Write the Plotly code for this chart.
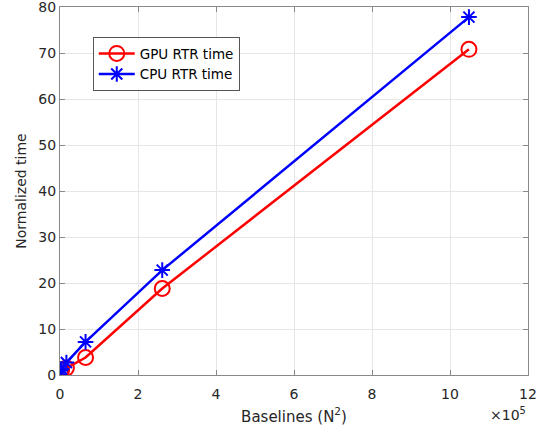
import plotly.graph_objects as go

baselines = [1024, 4096, 16384, 65536, 262144, 1048576]
gpu_time = [1.0, 1.1, 1.5, 3.8, 18.8, 70.8]
cpu_time = [1.0, 1.3, 2.7, 7.2, 22.8, 77.8]
x_ticks = [0, 2, 4, 6, 8, 10, 12]
y_ticks = [0, 10, 20, 30, 40, 50, 60, 70, 80]

xs = [b / 1e5 for b in baselines]
font = "DejaVu Sans"
tc = "#262626"

fig = go.Figure()
fig.add_trace(go.Scatter(x=xs, y=gpu_time, mode="lines+markers", name="GPU RTR time",
                         line=dict(color="#ff0000", width=2.5),
                         marker=dict(symbol="circle-open", size=15, line=dict(width=2, color="#ff0000"))))
fig.add_trace(go.Scatter(x=xs, y=cpu_time, mode="lines+markers", name="CPU RTR time",
                         line=dict(color="#0000ff", width=2.5),
                         marker=dict(symbol="asterisk-open", size=13, line=dict(width=2, color="#0000ff"))))

axis_common = dict(showgrid=True, gridcolor="#e6e6e6", gridwidth=1, zeroline=False,
                   showline=True, linecolor="#8a8a8a", linewidth=1, mirror="allticks",
                   ticks="inside", ticklen=5, tickcolor="#8a8a8a", automargin=False,
                   ticklabeloverflow="allow",
                   tickfont=dict(family=font, size=14, color=tc))

fig.update_layout(
    width=546, height=427,
    margin=dict(l=60, r=18, t=7, b=52),
    paper_bgcolor="white", plot_bgcolor="white",
    font=dict(family=font, color=tc),
    xaxis=dict(range=[0, 12], tickvals=x_ticks, ticklabelstandoff=6,
               title=dict(text="Baselines (N<sup>2</sup>)", font=dict(family=font, size=15, color=tc), standoff=10),
               **axis_common),
    yaxis=dict(range=[0, 80], tickvals=y_ticks, ticklabelstandoff=0,
               title=dict(text="Normalized time", font=dict(family=font, size=14, color=tc), standoff=8),
               **axis_common),
    legend=dict(x=0.07, y=0.918, xanchor="left", yanchor="top",
                bgcolor="white", bordercolor="#555555", borderwidth=1,
                font=dict(family=font, size=13.5, color="black"),
                tracegroupgap=0, itemwidth=36),
    showlegend=True,
)
fig.add_annotation(text="×10<sup>5</sup>", xref="paper", yref="paper", x=1.0, y=-0.075,
                   xanchor="right", yanchor="top", showarrow=False,
                   font=dict(family=font, size=14, color=tc))

fig.write_html("out.html", config={"displayModeBar": False},
               post_script="document.body.style.margin='0';")
